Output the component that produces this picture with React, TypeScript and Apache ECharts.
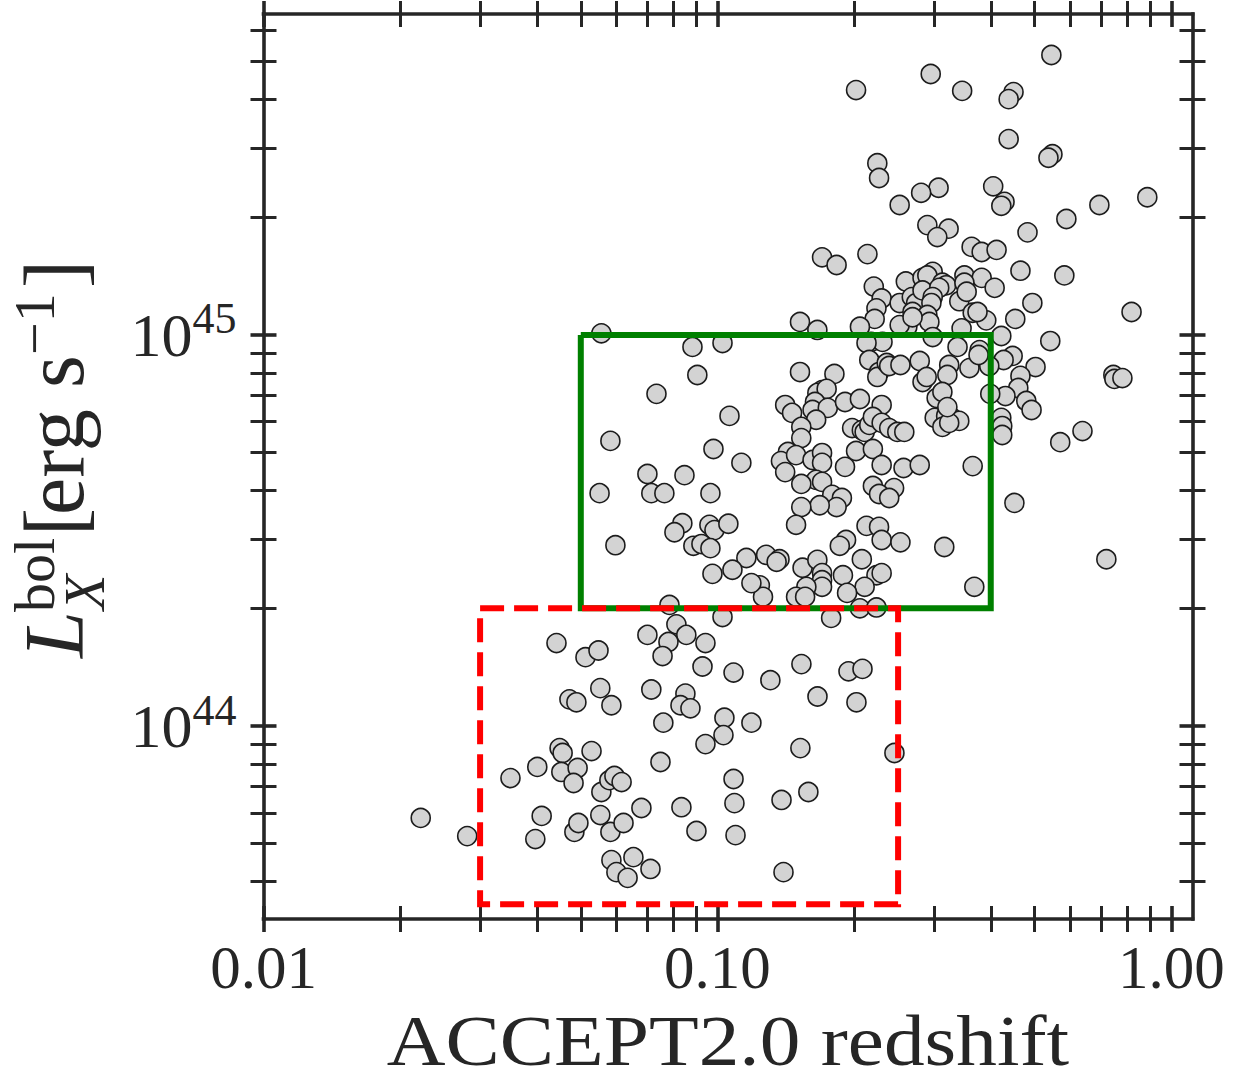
import React, { useEffect, useRef } from "react";
import * as echarts from "echarts";

// ---- data: redshift z and bolometric luminosity in units of 1e44 erg/s ----
const zUpper = [
  0.544, 0.295, 0.202, 0.346, 0.449, 0.438, 0.438, 0.547, 0.536, 0.225,
  0.227, 0.405, 0.307, 0.281, 0.885, 0.429, 0.422, 0.694, 0.252, 0.587,
  0.290, 0.323, 0.482, 0.305, 0.363, 0.382, 0.412, 0.214, 0.170, 0.183,
  0.465, 0.581, 0.260, 0.283, 0.298, 0.290, 0.313, 0.319, 0.350, 0.382,
  0.350, 0.408, 0.221, 0.230, 0.224, 0.222, 0.206, 0.252, 0.268, 0.274,
  0.269, 0.283, 0.308, 0.298, 0.296, 0.290, 0.293, 0.341, 0.354, 0.365,
  0.391, 0.374, 0.345, 0.262, 0.252, 0.269, 0.152, 0.166, 0.218, 0.231,
  0.213, 0.298, 0.338, 0.378, 0.422, 0.494, 0.817, 0.453, 0.541, 0.447,
  0.427, 0.397, 0.502, 0.465, 0.460, 0.431, 0.479, 0.492, 0.399, 0.745,
  0.749, 0.780, 0.422, 0.424, 0.424, 0.637, 0.569, 0.451, 0.719,
];
const lUpper = [
  52.0, 46.5, 42.3, 42.1, 41.8, 40.1, 31.7, 29.0, 28.4, 27.5,
  25.2, 24.0, 23.8, 23.1, 22.5, 21.9, 21.4, 21.5, 21.5, 19.8,
  19.1, 18.7, 18.3, 17.8, 16.8, 16.3, 16.5, 16.1, 15.8, 15.1,
  14.6, 14.2, 13.7, 14.0, 14.5, 14.2, 13.6, 13.4, 14.2, 14.0,
  13.6, 13.2, 13.3, 12.4, 11.7, 10.99, 10.5, 12.07, 12.5, 12.07,
  11.45, 13.0, 13.2, 12.5, 12.07, 11.25, 10.8, 12.2, 12.9, 11.4,
  10.9, 11.45, 10.4, 10.5, 10.6, 11.1, 10.8, 10.3, 9.6, 9.6,
  9.54, 9.88, 9.32, 9.15, 9.94, 12.07, 11.45, 10.99, 9.65, 8.84,
  8.63, 8.33, 8.28, 7.86, 7.32, 6.98, 6.78, 6.43, 7.07, 7.9,
  7.72, 7.76, 6.14, 5.85, 5.55, 5.68, 5.32, 3.72, 2.67,
];
const zMiddle = [
  0.152, 0.181, 0.216, 0.227, 0.225, 0.236, 0.239, 0.253, 0.279, 0.283,
  0.289, 0.324, 0.321, 0.359, 0.376, 0.304, 0.313, 0.301, 0.319, 0.329,
  0.341, 0.313, 0.324, 0.321, 0.170, 0.166, 0.174, 0.164, 0.162, 0.175,
  0.165, 0.191, 0.206, 0.230, 0.141, 0.146, 0.153, 0.153, 0.198, 0.208,
  0.211, 0.216, 0.220, 0.230, 0.239, 0.249, 0.258, 0.143, 0.138, 0.141,
  0.149, 0.162, 0.170, 0.170, 0.165, 0.153, 0.170, 0.191, 0.202, 0.220,
  0.230, 0.257, 0.279, 0.365, 0.220, 0.245, 0.227, 0.239, 0.179, 0.188,
  0.183, 0.168, 0.153, 0.149, 0.213, 0.227, 0.230, 0.253, 0.316, 0.192,
  0.186, 0.208, 0.128, 0.137, 0.135, 0.154, 0.166, 0.170, 0.170, 0.170,
  0.157, 0.149, 0.156, 0.189, 0.224, 0.230, 0.211, 0.193, 0.368, 0.124,
  0.126, 0.206, 0.224, 0.178,
];
const lMiddle = [
  8.04, 7.95, 8.63, 8.04, 7.81, 8.48, 8.33, 8.38, 8.58, 7.58,
  7.81, 8.38, 7.9, 8.23, 8.89, 6.9, 7.15, 6.14, 6.21, 6.14,
  6.03, 5.82, 5.96, 6.54, 7.23, 7.11, 7.28, 6.74, 6.43, 6.51,
  6.07, 6.74, 6.86, 6.62, 6.62, 6.32, 5.82, 5.45, 5.78, 5.71,
  5.65, 5.89, 6.17, 5.96, 5.78, 5.65, 5.65, 5.02, 4.76, 4.46,
  4.93, 4.79, 4.99, 4.71, 4.26, 4.16, 4.21, 4.6, 5.05, 5.11,
  4.65, 4.57, 4.65, 4.62, 4.11, 4.06, 3.92, 3.83, 3.9, 3.83,
  3.63, 3.67, 3.63, 3.27, 3.25, 3.23, 2.99, 2.95, 2.87, 2.99,
  2.89, 2.67, 2.74, 2.67, 2.63, 2.54, 2.66, 2.46, 2.36, 2.27,
  2.27, 2.14, 2.14, 2.43, 2.43, 2.46, 2.27, 2.19, 2.27, 2.29,
  2.14, 2.0, 2.01, 1.89,
];
const zNearby = [
  0.0555, 0.0881, 0.1026, 0.0903, 0.0734, 0.1063, 0.0581, 0.098, 0.1129, 0.0701,
  0.0846, 0.055, 0.0715, 0.0764, 0.0965, 0.0837, 0.0804, 0.096, 0.0985, 0.1057,
  0.0596, 0.0885, 0.0922, 0.0965, 0.1158, 0.0975, 0.1079, 0.1188, 0.0784, 0.1026,
];
const lNearby = [
  10.1, 9.32, 9.54, 7.9, 7.07, 6.21, 5.36, 5.11, 4.71, 4.41,
  4.38, 3.94, 3.94, 3.94, 3.94, 3.3, 3.13, 3.27, 3.17, 3.29,
  2.9, 2.89, 2.92, 2.85, 2.69, 2.45, 2.51, 2.32, 2.04, 1.9,
];
const zLower = [
  0.0812, 0.0854, 0.078, 0.0701, 0.0941, 0.0757, 0.0927, 0.1085, 0.1308, 0.1531,
  0.1944, 0.2087, 0.0715, 0.085, 0.0829, 0.0872, 0.1661, 0.2024, 0.076, 0.1036,
  0.1031, 0.1188, 0.0941, 0.1523, 0.2454, 0.0749, 0.1085, 0.109, 0.1384, 0.1586,
  0.068, 0.0833, 0.0899, 0.1096, 0.0712, 0.1398, 0.0442, 0.0512, 0.0547, 0.0552,
  0.0472, 0.0489, 0.0584, 0.0449, 0.0456, 0.0528, 0.0401, 0.035, 0.0453, 0.0492,
  0.0482, 0.0555, 0.0578, 0.0593, 0.0615, 0.0222, 0.0281, 0.041, 0.0397, 0.0484,
  0.0494, 0.0552, 0.0581, 0.0621, 0.0584, 0.0599, 0.0634, 0.0653,
];
const lLower = [
  1.82, 1.71, 1.64, 1.71, 1.63, 1.51, 1.42, 1.37, 1.31, 1.44,
  1.38, 1.4, 1.24, 1.21, 1.13, 1.11, 1.19, 1.15, 1.02, 1.05,
  0.948, 1.02, 0.899, 0.878, 0.853, 0.809, 0.732, 0.635, 0.647, 0.678,
  0.617, 0.62, 0.539, 0.526, 0.431, 0.423, 1.63, 1.5, 1.56, 1.25,
  1.17, 1.15, 1.13, 0.878, 0.853, 0.863, 0.786, 0.736, 0.763, 0.781,
  0.715, 0.678, 0.727, 0.745, 0.719, 0.582, 0.523, 0.589, 0.514, 0.536,
  0.565, 0.592, 0.536, 0.565, 0.454, 0.423, 0.409, 0.462,
];
const LUM_UNIT = 1e44;

// selection boxes
const greenBoxZ = [0.05, 0.4];
const greenBoxL = [2e44, 1e45];
const redBoxZ = [0.03, 0.25];
const redBoxL = [3.5e43, 2e44];

// axes
const xRange = [0.01, 1.113];
const yRange = [3.21e43, 6.62e45];
const xMajor = [0.01, 0.1, 1];
const xMinor = [0.02, 0.03, 0.04, 0.05, 0.06, 0.07, 0.08, 0.09, 0.2, 0.3, 0.4, 0.5, 0.6, 0.7, 0.8, 0.9];
const yMajor = [1e44, 1e45];
const yMinor = [4e43, 5e43, 6e43, 7e43, 8e43, 9e43, 2e44, 3e44, 4e44, 5e44, 6e44, 7e44, 8e44, 9e44, 2e45, 3e45, 4e45, 5e45, 6e45];
const xTitle = "ACCEPT2.0 redshift";

const INK = "#262626";
const FONT = "Liberation Serif";
const lg = (v: number) => Math.log10(v);

function boxPath(zs: number[], ls: number[]) {
  return [
    [lg(zs[0]), lg(ls[1])],
    [lg(zs[1]), lg(ls[1])],
    [lg(zs[1]), lg(ls[0])],
    [lg(zs[0]), lg(ls[0])],
    [lg(zs[0]), lg(ls[1])],
  ];
}

function buildOption() {
  const zAll = [...zUpper, ...zMiddle, ...zNearby, ...zLower];
  const lAll = [...lUpper, ...lMiddle, ...lNearby, ...lLower];
  const points = zAll.map((z, i) => [lg(z), lg(lAll[i] * LUM_UNIT)]);

  const xMin = lg(xRange[0]);
  const xMax = lg(xRange[1]);
  const yMin = lg(yRange[0]);
  const yMax = lg(yRange[1]);

  const base = (min: number, max: number) => ({
    type: "value",
    min,
    max,
    splitLine: { show: false },
    axisPointer: { show: false },
  });
  const lineAxis = (min: number, max: number, position: string) => ({
    ...base(min, max),
    position,
    axisLine: { show: true, onZero: false, lineStyle: { color: INK, width: 3.6, cap: "square" } },
    axisTick: { show: false },
    axisLabel: { show: false },
  });
  const tickAxis = (min: number, max: number, position: string, values: number[], width: number) => ({
    ...base(min, max),
    position,
    offset: -13,
    axisLine: { show: false, onZero: false },
    axisLabel: { show: false },
    axisTick: {
      show: true,
      inside: false,
      length: 26,
      customValues: values.map(lg),
      lineStyle: { color: INK, width },
    },
  });

  const xAxes = [
    {
      ...lineAxis(xMin, xMax, "bottom"),
      axisLabel: {
        show: true,
        customValues: xMajor.map(lg),
        formatter: (v: number) => Math.pow(10, v).toFixed(2),
        margin: 18,
        fontSize: 61,
        fontFamily: FONT,
        color: INK,
      },
    },
    lineAxis(xMin, xMax, "top"),
    tickAxis(xMin, xMax, "bottom", xMinor, 3),
    tickAxis(xMin, xMax, "top", xMinor, 3),
    tickAxis(xMin, xMax, "bottom", xMajor, 3.6),
    tickAxis(xMin, xMax, "top", xMajor, 3.6),
  ];
  const yAxes = [
    {
      ...lineAxis(yMin, yMax, "left"),
      axisLabel: {
        show: true,
        customValues: yMajor.map(lg),
        formatter: (v: number) => `{b|10}{s|${Math.round(v)}}`,
        margin: 27,
        color: INK,
        rich: {
          b: { fontSize: 62, lineHeight: 76, fontFamily: FONT, color: INK, verticalAlign: "middle" },
          s: { fontSize: 44, lineHeight: 44, fontFamily: FONT, color: INK, verticalAlign: "top" },
        },
      },
    },
    lineAxis(yMin, yMax, "right"),
    tickAxis(yMin, yMax, "left", yMinor, 3),
    tickAxis(yMin, yMax, "right", yMinor, 3),
    tickAxis(yMin, yMax, "left", yMajor, 3.6),
    tickAxis(yMin, yMax, "right", yMajor, 3.6),
  ];

  const txt = (text: string, x: number, y: number, size: number, italic = false) => ({
    type: "text",
    x,
    y,
    silent: true,
    style: {
      text,
      fontSize: size,
      fontFamily: FONT,
      fontStyle: italic ? "italic" : "normal",
      lineHeight: Math.round(size * 0.72),
      fill: INK,
      align: "left",
      textAlign: "left",
      verticalAlign: "middle",
      textVerticalAlign: "middle",
    },
  });
  const M = 84; // main size
  const S = 58; // script size
  const T = 72; // x title size
  const mid = (baseline: number, size: number) => baseline - 0.3375 * size;

  return {
    animation: false,
    backgroundColor: "#ffffff",
    grid: { left: 263.5, top: 14, width: 929, height: 905, containLabel: false, outerBoundsMode: "none" },
    xAxis: xAxes,
    yAxis: yAxes,
    graphic: [
      {
        type: "text",
        x: 728,
        y: mid(1065, T),
        scaleX: 1.13,
        silent: true,
        style: {
          text: xTitle,
          fontSize: T,
          fontFamily: FONT,
          lineHeight: T,
          fill: INK,
          align: "center",
          textAlign: "center",
          verticalAlign: "middle",
          textVerticalAlign: "middle",
        },
      },
      {
        type: "group",
        x: 83,
        y: 660,
        rotation: Math.PI / 2,
        children: [
          txt("L", 2, mid(0, M), M, true),
          txt("bol", 48, mid(-29, S), S),
          txt("X", 50, mid(21, S), S, true),
          txt("[", 124, mid(0, M), M),
          txt("erg", 145, mid(0, M), M),
          txt("s", 272, mid(0, M), M),
          txt("\u22121", 305, mid(-29, S), S),
          txt("]", 372, mid(0, M), M),
        ],
      },
    ],
    series: [
      {
        type: "scatter",
        xAxisIndex: 0,
        yAxisIndex: 0,
        data: points,
        symbol: "circle",
        symbolSize: 19,
        itemStyle: { color: "#d3d3d3", borderColor: "#1c1c1c", borderWidth: 1.6, opacity: 1 },
        emphasis: { disabled: true },
        z: 2,
      },
      {
        type: "line",
        xAxisIndex: 0,
        yAxisIndex: 0,
        data: boxPath(greenBoxZ, greenBoxL),
        symbol: "none",
        lineStyle: { color: "#008000", width: 6, cap: "butt", join: "miter" },
        emphasis: { disabled: true },
        silent: true,
        z: 3,
      },
      {
        type: "line",
        xAxisIndex: 0,
        yAxisIndex: 0,
        data: boxPath(redBoxZ, redBoxL),
        symbol: "none",
        lineStyle: { color: "#ff0000", width: 6, type: [24, 10], cap: "butt", join: "miter" },
        emphasis: { disabled: true },
        silent: true,
        z: 4,
      },
    ],
  };
}

export default function App() {
  const ref = useRef<HTMLDivElement>(null);
  useEffect(() => {
    if (!ref.current) return;
    const chart = echarts.init(ref.current, null, { renderer: "svg" });
    chart.setOption(buildOption() as any);
    return () => chart.dispose();
  }, []);
  return (
    <div
      ref={ref}
      style={{ position: "absolute", left: 0, top: 0, width: 1239, height: 1082, background: "#fff" }}
    />
  );
}
